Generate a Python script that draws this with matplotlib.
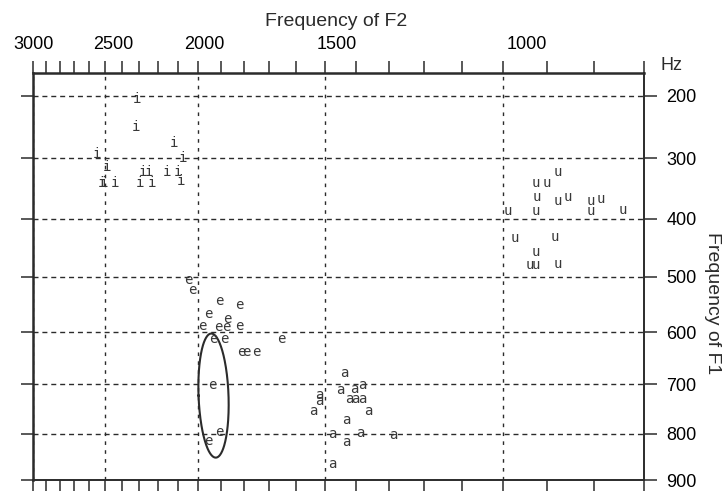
import numpy as np
import matplotlib
matplotlib.use('Agg')
import matplotlib.pyplot as plt
from matplotlib.transforms import ScaledTranslation

# Formant values (Hz), one letter per token
i_f2 = [2315, 2320, 2120, 2550, 2075, 2490, 2280, 2250, 2155, 2100, 2085, 2520, 2505, 2440, 2295, 2230]
i_f1 = [205, 250, 275, 293, 300, 315, 323, 323, 323, 323, 338, 341, 341, 341, 341, 341]

e_f2 = [2050, 2030, 1905, 1820, 1955, 1870, 1980, 1910, 1875, 1820, 1930, 1885, 1655, 1810, 1790, 1750, 1935, 1905, 1955]
e_f1 = [505, 523, 544, 550, 566, 576, 588, 590, 590, 588, 612, 612, 612, 637, 637, 637, 702, 796, 815]

a_f2 = [1435, 1450, 1405, 1380, 1520, 1520, 1420, 1400, 1380, 1540, 1360, 1430, 1475, 1385, 1285, 1430, 1475]
a_f1 = [677, 710, 709, 702, 721, 733, 729, 729, 729, 753, 753, 771, 800, 798, 802, 818, 864]

u_f2 = [877, 925, 900, 922, 876, 854, 807, 786, 990, 925, 807, 741, 973, 882, 925, 938, 925, 877]
u_f1 = [322, 340, 340, 364, 371, 364, 370, 368, 387, 387, 387, 386, 433, 432, 457, 479, 479, 477]

f2_labels = [3000, 2500, 2000, 1500, 1000]
f1_labels = [200, 300, 400, 500, 600, 700, 800, 900]

# ellipse round the outlying e tokens: centre in Hz, half-axes in Bark
ell_f2, ell_f1 = 1931, 722
ell_a, ell_b, ell_tilt = 0.226, 0.95, 2.0


def bark(f):
    f = np.asarray(f, dtype=float)
    return 13 * np.arctan(0.00076 * f) + 3.5 * np.arctan((f / 7500.0) ** 2)


hz_table = np.linspace(0, 8000, 16001)
bark_table = bark(hz_table)


def hz(z):
    return np.interp(z, bark_table, hz_table)


plt.rcParams['font.family'] = ['Liberation Sans', 'DejaVu Sans']
plt.rcParams['lines.scale_dashes'] = False

fig = plt.figure(figsize=(7.25, 4.91), dpi=100, facecolor='white')
ax = fig.add_axes([0.0451, 0.0224, 0.8432, 0.8295])

ax.set_xscale('function', functions=(bark, hz))
ax.set_yscale('function', functions=(bark, hz))
ax.set_xlim(3000, 700)
ax.set_ylim(900, 164)

ink = '#2b2b2b'

ax.set_xticks(f2_labels)
ax.set_xticks(np.arange(700, 3001, 100), minor=True)
ax.set_xticklabels([str(v) for v in f2_labels])
ax.set_yticks(f1_labels)
ax.set_yticklabels([str(v) for v in f1_labels])

ax.tick_params(axis='x', which='both', top=True, bottom=True, labeltop=True,
               labelbottom=False, direction='out', length=9, width=1.1,
               color=ink, labelsize=13, pad=5)
ax.tick_params(axis='y', which='both', left=True, right=True, labelleft=False,
               labelright=True, direction='out', length=9, width=1.1,
               color=ink, labelsize=13, pad=7)

for sp in ax.spines.values():
    sp.set_color(ink)
    sp.set_linewidth(1.4)
ax.spines['left'].set_linewidth(1.8)
ax.spines['top'].set_linewidth(1.8)

ax.xaxis.grid(True, which='major', color=ink, linewidth=1.0, linestyle=(0, (2.6, 3.8)))
ax.yaxis.grid(True, which='major', color=ink, linewidth=1.0, linestyle=(0, (3.6, 2.8)))
ax.set_axisbelow(True)

# the printed F2 numbers sit a little right of their ticks
label_shift_px = [1, 8, 6, 12, 24]
for tick, dx in zip(ax.xaxis.get_major_ticks(), label_shift_px):
    tick.label2.set_transform(tick.label2.get_transform()
                              + ScaledTranslation(dx / 100, 0, fig.dpi_scale_trans))

letter_style = dict(ha='center', va='center', fontsize=10, color='#383838',
                    family='DejaVu Sans Mono')
for f2s, f1s, ch in [(i_f2, i_f1, 'i'), (e_f2, e_f1, 'e'),
                     (a_f2, a_f1, 'a'), (u_f2, u_f1, 'u')]:
    for x, y in zip(f2s, f1s):
        ax.text(x, y, ch, **letter_style)

t = np.linspace(0, 2 * np.pi, 300)
along = ell_b * np.sin(t)
z1 = bark(ell_f1) + along
z2 = bark(ell_f2) + ell_a * np.cos(t) - along * np.tan(np.radians(ell_tilt))
ax.plot(hz(z2), hz(z1), color=ink, linewidth=1.5)

fig.text(336 / 725, 1 - 26 / 491, 'Frequency of F2', ha='center', va='baseline',
         fontsize=14, color=ink)
fig.text(661 / 725, 1 - 65 / 491, 'Hz', ha='left', va='center', fontsize=13, color=ink)
fig.text(712 / 725, 1 - 303 / 491, 'Frequency of F1', ha='center', va='center',
         rotation=-90, fontsize=14, color=ink)

fig.savefig('out.png', dpi=100, facecolor='white')
